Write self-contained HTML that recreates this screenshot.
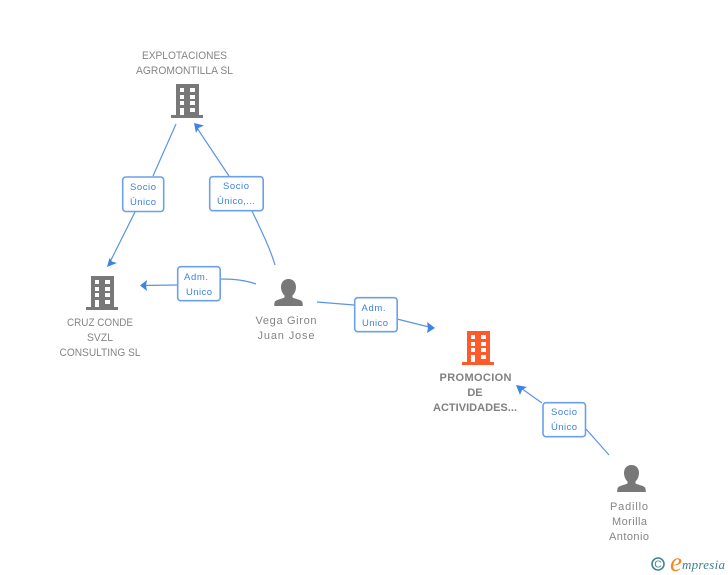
<!DOCTYPE html>
<html><head><meta charset="utf-8"><style>
html,body{margin:0;padding:0;background:#fff}
svg{display:block}
.n{font:11px "Liberation Sans",sans-serif;fill:#858585;text-anchor:middle}
.b{font:bold 11px "Liberation Sans",sans-serif;fill:#808080;text-anchor:middle}
.l{font:9.5px "Liberation Sans",sans-serif;fill:#3d80e0;text-anchor:middle}
.c{fill:none;stroke:#5a94e6;stroke-width:1.2}
.a{fill:#3f83e4}
.x{fill:#fff;stroke:#6ba0ea;stroke-width:1.6}
</style></head><body>
<svg width="728" height="575" viewBox="0 0 728 575" xmlns="http://www.w3.org/2000/svg">
<defs>
<g id="bd">
<path d="M176 84h23v31h4v3h-32v-3h5z M180 88v4h4v-4z M190 88v4h5v-4z M180 95v4h4v-4z M190 95v4h5v-4z M180 101v4h4v-4z M190 101v4h5v-4z M180 108v7h4v-7z M190 108v4h5v-4z" fill-rule="evenodd"/>
</g>
<g id="pr">
<path d="M288.500 279c4.800 0 7.500 3.500 7.500 8 0 3.500-1.500 6.500-3.500 8.500v2c3 1.500 8 2 9.500 4 .7 1 .8 3 .8 4.500h-28.600c0-1.500.1-3.500.8-4.500 1.500-2 6.500-2.500 9.500-4v-2c-2-2-3.500-5-3.500-8.500 0-4.500 2.700-8 7.500-8z"/>
</g>
</defs>

<path class="c" d="M176 124L153 176M135 212L108 266M229 176L195 125M252 211C261 230 270 248 275 265M256 284C245 280 233 279 221 279M177 285L142 285.500M317 302L354 305M397 319L433 328M542 403L518 386M586 429L609 455"/>
<path class="a" d="M194 123L204 125.500 198.500 128 196 133z"/>
<path class="a" d="M107 267L117 263 112 261.500 109.500 258z"/>
<path class="a" d="M140 285.500L147 280 146 285.500 147 291z"/>
<path class="a" d="M435 328L427 322 428 328 427 333z"/>
<path class="a" d="M516 385L527 387 522 390 520 395z"/>

<use href="#bd" fill="#787878"/>
<use href="#bd" fill="#787878" x="-85" y="192"/>
<use href="#bd" fill="#ff5a2c" x="291" y="247"/>
<use href="#pr" fill="#787878"/>
<use href="#pr" fill="#787878" x="343" y="186"/>

<text class="n" x="184.500" y="59" textLength="85" lengthAdjust="spacingAndGlyphs">EXPLOTACIONES</text>
<text class="n" x="184.500" y="74" textLength="97" lengthAdjust="spacingAndGlyphs">AGROMONTILLA SL</text>
<text class="n" x="100" y="326" textLength="66" lengthAdjust="spacingAndGlyphs">CRUZ CONDE</text>
<text class="n" x="100" y="341" textLength="26" lengthAdjust="spacingAndGlyphs">SVZL</text>
<text class="n" x="100" y="356" textLength="81" lengthAdjust="spacingAndGlyphs">CONSULTING SL</text>
<text class="n" x="286" y="324" textLength="61">Vega Giron</text>
<text class="n" x="286" y="339" textLength="57">Juan Jose</text>
<text class="b" x="475.500" y="381" textLength="72">PROMOCION</text>
<text class="b" x="475" y="396">DE</text>
<text class="b" x="475" y="411" textLength="84">ACTIVIDADES...</text>
<text class="n" x="629" y="510" textLength="38">Padillo</text>
<text class="n" x="629.500" y="525" textLength="35">Morilla</text>
<text class="n" x="629" y="540" textLength="40">Antonio</text>

<rect class="x" x="122.700" y="177" width="41" height="34.500" rx="3"/>
<text class="l" x="143" y="190" textLength="26">Socio</text><text class="l" x="143" y="205" textLength="26">Único</text>
<rect class="x" x="209.700" y="176.700" width="53.500" height="34" rx="3"/>
<text class="l" x="236" y="189" textLength="26">Socio</text><text class="l" x="236" y="204" textLength="38">Único,...</text>
<rect class="x" x="177.700" y="266.700" width="42.500" height="34" rx="3"/>
<text class="l" x="196" y="280" textLength="24">Adm.</text><text class="l" x="199" y="295" textLength="26">Unico</text>
<rect class="x" x="354.700" y="297.700" width="42.500" height="34" rx="3"/>
<text class="l" x="373.500" y="311" textLength="24">Adm.</text><text class="l" x="375" y="326" textLength="26">Unico</text>
<rect class="x" x="543" y="402.700" width="42.500" height="34" rx="3"/>
<text class="l" x="564" y="415" textLength="26">Socio</text><text class="l" x="564" y="430" textLength="26">Único</text>

<circle cx="658" cy="564" r="6" fill="none" stroke="#3f8796" stroke-width="1.600"/>
<text x="658" y="567.500" font-family="Liberation Sans,sans-serif" font-size="10" fill="#3f8796" text-anchor="middle">C</text>
<text x="670" y="571" font-family="Liberation Serif,serif" font-style="italic" font-size="27" fill="#f08a1d">e</text>
<text x="682" y="569" font-family="Liberation Serif,serif" font-style="italic" font-size="13" fill="#3f7f8e" textLength="43">mpresia</text>
</svg>
</body></html>
